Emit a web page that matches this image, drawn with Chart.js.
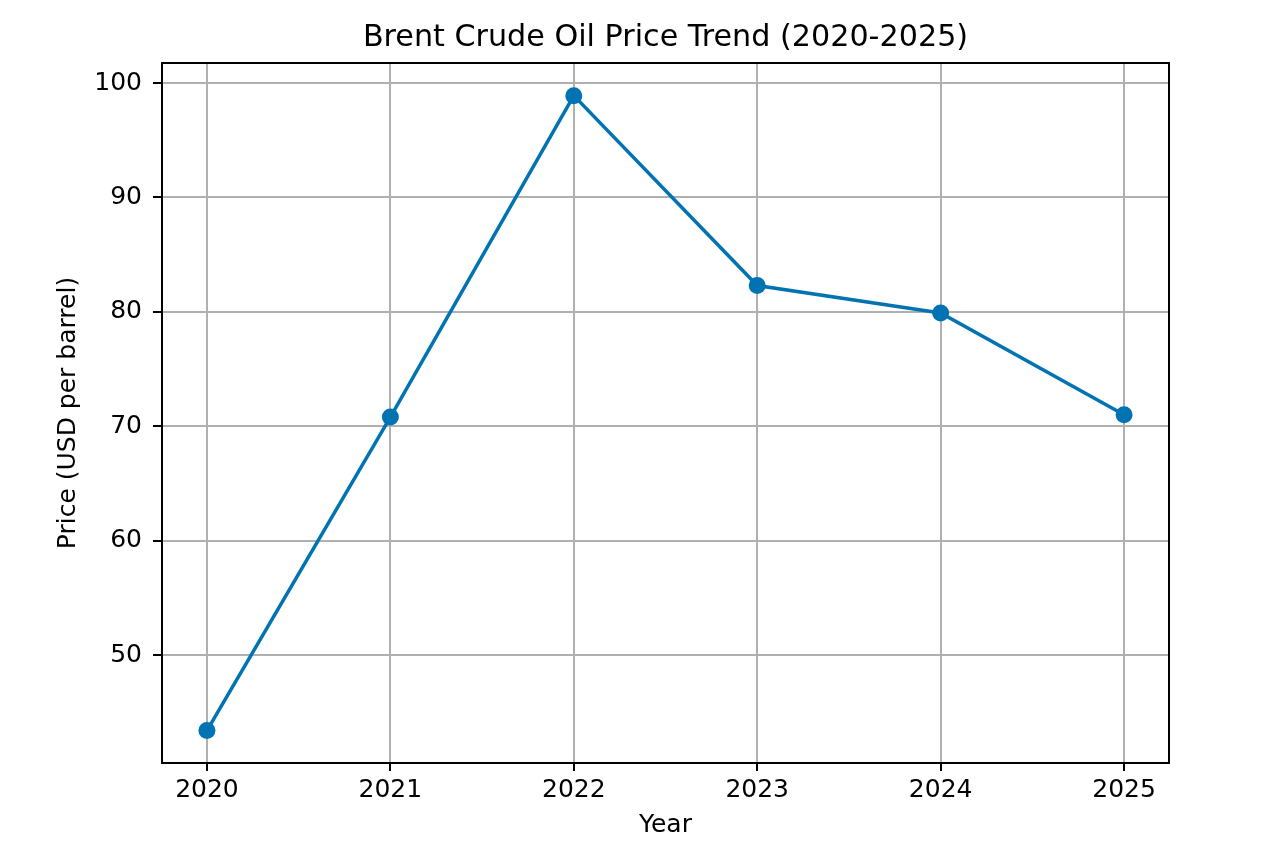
<!DOCTYPE html>
<html>
<head>
<meta charset="utf-8">
<script src="https://cdn.jsdelivr.net/npm/chart.js@4"></script>
<style>
  body { margin: 0; background: #fff; }
  #wrap { width: 1265px; height: 857px; }
</style>
</head>
<body>
<div id="wrap"><canvas id="oil-chart" width="1265" height="857"></canvas></div>
<script>
// Brent crude yearly prices
const years = [2020, 2021, 2022, 2023, 2024, 2025];
const prices = [43.4, 70.8, 98.9, 82.3, 79.9, 71.0];

const font = 'DejaVu Sans';

// top and right spines, like a matplotlib frame
const framePlugin = {
  id: 'frame',
  afterDraw(chart) {
    const { ctx, chartArea: a } = chart;
    ctx.save();
    ctx.strokeStyle = '#000';
    ctx.lineWidth = 2;
    ctx.beginPath();
    ctx.moveTo(a.left, a.top);
    ctx.lineTo(a.right, a.top);
    ctx.lineTo(a.right, a.bottom);
    ctx.stroke();
    ctx.restore();
  }
};

document.addEventListener('DOMContentLoaded', function() {
  const ctx = document.getElementById('oil-chart').getContext('2d');

  new Chart(ctx, {
    type: 'line',
    data: {
      datasets: [{
        label: 'Brent',
        data: years.map((y, i) => ({ x: y, y: prices[i] })),
        borderColor: '#0173b2',
        backgroundColor: '#0173b2',
        borderWidth: 3.5,
        pointRadius: 8.5,
        pointHoverRadius: 8.5,
        pointBorderWidth: 0,
        tension: 0
      }]
    },
    options: {
      responsive: false,
      animation: false,
      layout: { padding: { left: 0, right: 96, top: 0, bottom: 0 } },
      plugins: {
        legend: { display: false },
        tooltip: { enabled: false },
        title: {
          display: true,
          fullSize: false,
          text: 'Brent Crude Oil Price Trend (2020-2025)',
          color: '#000',
          font: { family: font, size: 30.2, weight: 'normal' },
          padding: { top: 19.9, bottom: 6.9 }
        }
      },
      scales: {
        x: {
          type: 'linear',
          min: 2019.755,
          max: 2025.245,
          afterFit: (s) => { s.height = 94; },
          ticks: {
            stepSize: 1,
            includeBounds: false,
            color: '#000',
            font: { family: font, size: 25 },
            padding: 4.5,
            callback: (v) => String(v)
          },
          grid: { color: '#b0b0b0', lineWidth: 2, tickColor: '#000', tickLength: 8, tickWidth: 2 },
          border: { display: true, color: '#000', width: 2 },
          title: {
            display: true,
            text: 'Year',
            color: '#000',
            font: { family: font, size: 25 },
            padding: { top: 0, bottom: 17 }
          }
        },
        y: {
          min: 40.56,
          max: 101.75,
          afterFit: (s) => { s.width = 162; },
          ticks: {
            stepSize: 10,
            includeBounds: false,
            color: '#000',
            font: { family: font, size: 25 },
            padding: 11
          },
          grid: { color: '#b0b0b0', lineWidth: 2, tickColor: '#000', tickLength: 9, tickWidth: 2 },
          border: { display: true, color: '#000', width: 2 },
          title: {
            display: true,
            text: 'Price (USD per barrel)',
            color: '#000',
            font: { family: font, size: 25 },
            padding: { top: 53, bottom: 0 }
          }
        }
      }
    },
    plugins: [framePlugin]
  });
});
</script>
</body>
</html>
